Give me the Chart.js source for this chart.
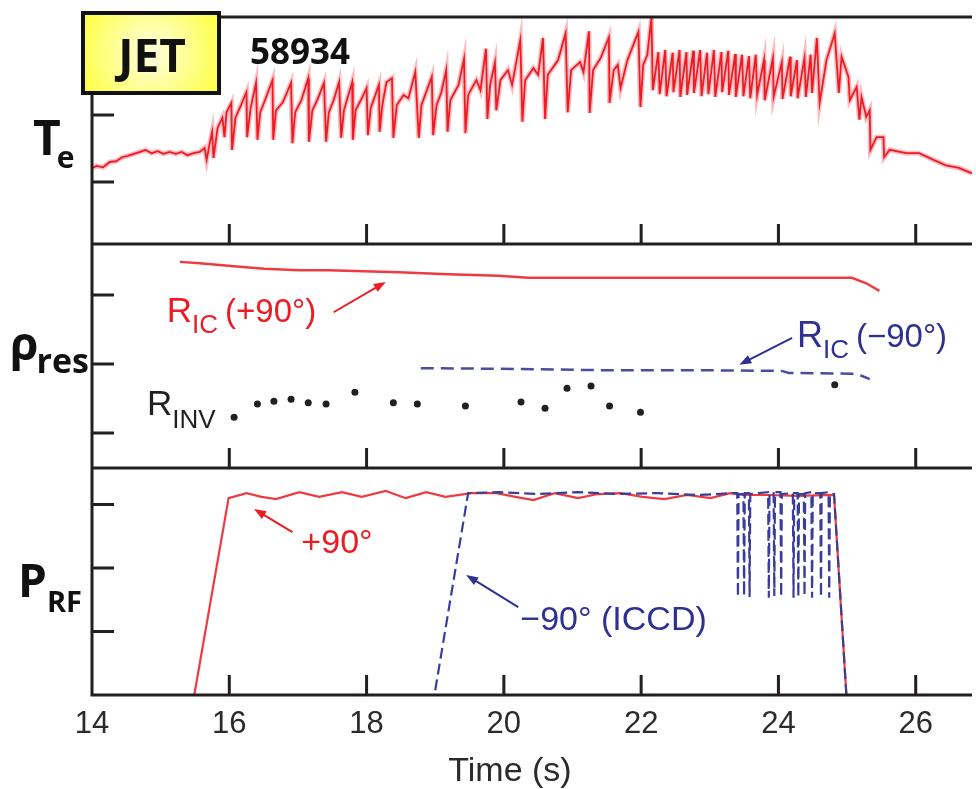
<!DOCTYPE html>
<html>
<head>
<meta charset="utf-8">
<script src="https://cdn.jsdelivr.net/npm/chart.js@4.4.1/dist/chart.umd.min.js"></script>
<style>
  html, body { margin: 0; padding: 0; background: #fff; }
  #wrap { position: relative; width: 976px; height: 789px; }
</style>
</head>
<body>
<div id="wrap"><canvas id="jet" width="976" height="789"></canvas></div>
<script>
// shot 58934: electron temperature, resonance radii and RF power vs time
const xTicks = [14, 16, 18, 20, 22, 24, 26];
const teTicks = [2, 3, 4];
const rhoTicks = [0.2, 0.3, 0.4];
const prfTicks = [2, 4, 6];

// central Te (keV), sawtoothing
const teTime = [
  14.00, 14.07, 14.16, 14.26, 14.35, 14.44, 14.52, 14.61, 14.70, 14.78, 14.87, 14.96, 15.04, 15.13, 15.22, 15.31, 15.39, 15.48, 15.57, 15.64,
  15.67, 15.71, 15.75, 15.77, 15.83, 15.90, 15.93, 15.96, 16.03, 16.04, 16.09, 16.15, 16.25, 16.26, 16.31, 16.39, 16.41,
  16.45, 16.52, 16.63, 16.64, 16.68, 16.78, 16.90, 16.92, 16.96, 17.05, 17.15, 17.16, 17.21, 17.28, 17.38, 17.41, 17.45, 17.52,
  17.60, 17.63, 17.67, 17.79, 17.80, 17.84, 17.93, 18.00, 18.02, 18.06, 18.18, 18.19, 18.23, 18.29, 18.37, 18.39,
  18.44, 18.54, 18.61, 18.71, 18.76, 18.80, 18.95, 18.97, 19.02, 19.09, 19.16, 19.18, 19.22, 19.34, 19.42, 19.44, 19.48,
  19.60, 19.66, 19.74, 19.76, 19.80, 19.87, 19.89, 19.95, 20.06, 20.12, 20.24, 20.27, 20.31, 20.43, 20.50, 20.57, 20.60, 20.64,
  20.79, 20.90, 20.93, 20.98, 21.11, 21.16, 21.24, 21.25, 21.30, 21.41, 21.53, 21.54, 21.60, 21.66, 21.70, 21.80, 21.96, 21.99, 22.03, 22.09, 22.15, 22.17,
  22.25, 22.27, 22.35, 22.37, 22.46, 22.47, 22.56, 22.57, 22.66, 22.67, 22.76, 22.77, 22.86, 22.88, 22.96, 22.98, 23.06, 23.08, 23.17, 23.18, 23.27, 23.28,
  23.37, 23.38, 23.47, 23.49, 23.57, 23.59, 23.67, 23.69, 23.79, 23.80, 23.92, 23.93, 24.05, 24.06, 24.17, 24.18, 24.27, 24.28, 24.38, 24.40, 24.47, 24.49,
  24.56, 24.60, 24.70, 24.82, 24.88, 24.92, 25.02, 25.04, 25.14, 25.18, 25.21, 25.28, 25.33, 25.34, 25.43, 25.53, 25.54, 25.62,
  25.86, 26.05, 26.26, 26.44, 26.63, 26.82
];
const teValue = [
  2.21, 2.24, 2.22, 2.30, 2.31, 2.37, 2.39, 2.42, 2.45, 2.48, 2.43, 2.46, 2.42, 2.45, 2.42, 2.45, 2.40, 2.43, 2.45, 2.51,
  2.33, 2.55, 2.75, 2.36, 2.81, 2.96, 2.67, 3.04, 3.18, 2.48, 2.96, 3.10, 3.34, 2.67, 3.10, 3.48, 2.63,
  3.04, 3.22, 3.52, 2.63, 3.07, 3.19, 3.48, 2.58, 3.04, 3.22, 3.55, 2.60, 3.07, 3.22, 3.48, 2.60, 3.04, 3.22,
  3.49, 2.66, 3.07, 3.49, 2.63, 3.07, 3.25, 3.40, 2.70, 3.10, 3.45, 2.75, 3.15, 3.49, 3.55, 2.66,
  3.15, 3.30, 3.25, 3.64, 2.66, 3.15, 3.57, 2.70, 3.15, 3.34, 3.67, 2.75, 3.22, 3.45, 3.84, 2.73, 3.30,
  3.52, 3.37, 3.99, 2.94, 3.45, 3.78, 3.07, 3.52, 3.67, 3.45, 4.12, 2.90, 3.52, 3.70, 3.60, 4.15, 2.94, 3.60,
  3.82, 4.22, 3.04, 3.67, 3.79, 3.64, 4.25, 3.03, 3.67, 3.85, 4.16, 3.18, 3.67, 3.75, 3.40, 3.82, 4.24, 3.12, 3.75, 3.90, 4.45, 3.37,
  3.94, 3.31, 3.97, 3.28, 3.93, 3.34, 3.97, 3.27, 3.94, 3.30, 3.96, 3.33, 3.97, 3.28, 3.93, 3.31, 3.97, 3.27, 3.94, 3.34, 3.96, 3.30,
  3.91, 3.27, 3.90, 3.28, 3.88, 3.25, 3.90, 3.30, 3.82, 3.22, 3.85, 3.27, 3.79, 3.24, 3.87, 3.28, 3.82, 3.25, 3.85, 3.27, 3.90, 3.33,
  4.15, 3.18, 3.82, 4.22, 3.33, 3.87, 3.57, 3.22, 3.42, 2.93, 3.27, 2.97, 3.07, 2.48, 2.67, 2.67, 2.37, 2.48,
  2.43, 2.43, 2.33, 2.25, 2.21, 2.13
];

// resonance position, +90 phasing
const ricPlusTime = [15.28, 15.57, 16.15, 16.51, 17.02, 17.45, 18.47, 19.19, 19.92, 20.35, 25.07, 25.28, 25.47];
const ricPlusRho = [0.448, 0.446, 0.441, 0.438, 0.436, 0.436, 0.433, 0.430, 0.428, 0.425, 0.425, 0.417, 0.406];

// resonance position, -90 phasing
const ricMinusTime = [18.79, 19.92, 21.51, 22.82, 24.05, 24.15, 25.07, 25.21, 25.33];
const ricMinusRho = [0.294, 0.293, 0.291, 0.291, 0.290, 0.287, 0.286, 0.283, 0.278];

// sawtooth inversion radius
const rinvTime = [16.07, 16.41, 16.65, 16.90, 17.15, 17.41, 17.83, 18.39, 18.74, 19.44, 20.25, 20.60, 20.92, 21.27, 21.54, 21.99, 24.82];
const rinvRho = [0.223, 0.242, 0.246, 0.249, 0.244, 0.242, 0.259, 0.244, 0.242, 0.239, 0.245, 0.236, 0.265, 0.268, 0.239, 0.230, 0.270];

// ICRH power (MW), +90 phasing
const prfPlusTime = [15.49, 15.99, 16.25, 16.47, 16.68, 17.02, 17.31, 17.64, 17.93, 18.28, 18.57, 18.87, 19.15, 19.53,
  19.89, 20.17, 20.43, 20.74, 21.08, 21.37, 21.70, 22.02, 22.34, 22.67, 23.01, 23.30, 23.50, 23.83, 24.27, 24.81, 24.99];
const prfPlusValue = [0, 6.20, 6.36, 6.24, 6.17, 6.39, 6.24, 6.39, 6.24, 6.43, 6.20, 6.39, 6.24, 6.36,
  6.36, 6.24, 6.14, 6.36, 6.20, 6.33, 6.36, 6.24, 6.17, 6.30, 6.20, 6.36, 6.30, 6.30, 6.27, 6.30, 0];

// ICRH power (MW), -90 phasing (ICCD), modulated near the end
const prfMinusTime = [19.00, 19.48, 19.92, 20.50, 21.08, 21.65, 22.24, 22.82, 23.36,
  23.40, 23.41, 23.42, 23.49, 23.50, 23.51, 23.57, 23.58, 23.59, 23.85, 23.86, 23.87,
  23.93, 23.94, 23.95, 24.03, 24.04, 24.05, 24.21, 24.22, 24.23, 24.28, 24.29, 24.30,
  24.37, 24.38, 24.39, 24.48, 24.49, 24.50, 24.61, 24.62, 24.63, 24.73, 24.74, 24.75,
  24.81, 24.99];
const prfMinusValue = [0.15, 6.36, 6.39, 6.33, 6.39, 6.33, 6.36, 6.30, 6.36,
  6.36, 3.09, 6.33, 6.33, 3.12, 6.36, 6.36, 3.09, 6.33, 6.39, 3.06, 6.36,
  6.36, 3.12, 6.39, 6.39, 3.09, 6.33, 6.36, 3.06, 6.36, 6.36, 3.09, 6.33,
  6.33, 3.12, 6.36, 6.39, 3.06, 6.36, 6.36, 3.09, 6.36, 6.39, 3.06, 6.33,
  6.33, 0];

const INK = '#231f20';
const RED = '#ed1c24';
const BLUE = '#2e3192';

const pts = (xs, ys) => xs.map((x, i) => ({ x, y: ys[i] }));

function runs(ctx, x, y, parts, color) {
  ctx.fillStyle = color;
  ctx.textAlign = 'left';
  ctx.textBaseline = 'alphabetic';
  let cx = x;
  parts.forEach(p => {
    ctx.font = p.font;
    cx += p.gap || 0;
    ctx.fillText(p.s, cx, y + (p.dy || 0));
    cx += ctx.measureText(p.s).width;
  });
}

function arrow(ctx, x0, y0, x1, y1, color) {
  const ang = Math.atan2(y1 - y0, x1 - x0);
  ctx.strokeStyle = color;
  ctx.fillStyle = color;
  ctx.lineWidth = 2;
  ctx.beginPath();
  ctx.moveTo(x0, y0);
  ctx.lineTo(x1 - 8 * Math.cos(ang), y1 - 8 * Math.sin(ang));
  ctx.stroke();
  ctx.beginPath();
  ctx.moveTo(x1, y1);
  ctx.lineTo(x1 - 12 * Math.cos(ang) + 4.5 * Math.sin(ang), y1 - 12 * Math.sin(ang) - 4.5 * Math.cos(ang));
  ctx.lineTo(x1 - 12 * Math.cos(ang) - 4.5 * Math.sin(ang), y1 - 12 * Math.sin(ang) + 4.5 * Math.cos(ang));
  ctx.closePath();
  ctx.fill();
}

const hiddenY = (min, max, weight) => ({
  type: 'linear', position: 'left', stack: 'panels', stackWeight: weight,
  min, max,
  ticks: { display: false },
  grid: { display: false, drawTicks: false },
  border: { display: false },
  afterFit: s => { s.width = 92; }
});

const decorations = {
  id: 'decorations',
  afterDraw(chart) {
    const { ctx, chartArea: a, scales } = chart;
    const x = scales.x;
    const yT = scales.yT, yR = scales.yR, yP = scales.yP;
    ctx.save();

    // frame and inward tick marks
    ctx.strokeStyle = INK;
    ctx.lineWidth = 3;
    ctx.beginPath();
    ctx.moveTo(a.left - 1.5, a.top); ctx.lineTo(a.right, a.top);
    ctx.moveTo(a.left, a.top); ctx.lineTo(a.left, a.bottom + 1.5);
    [[yT, teTicks], [yR, rhoTicks], [yP, prfTicks]].forEach(([s, ticks]) => {
      ctx.moveTo(a.left, s.bottom); ctx.lineTo(a.right, s.bottom);
      xTicks.slice(1).forEach(v => {
        const px = x.getPixelForValue(v);
        ctx.moveTo(px, s.bottom); ctx.lineTo(px, s.bottom - 20);
      });
      ticks.forEach(v => {
        const py = s.getPixelForValue(v);
        ctx.moveTo(a.left, py); ctx.lineTo(a.left + 22, py);
      });
    });
    ctx.stroke();

    // JET badge
    const g = ctx.createRadialGradient(151, 53, 8, 151, 53, 85);
    g.addColorStop(0, '#ffffd2');
    g.addColorStop(1, '#ffff2e');
    ctx.fillStyle = g;
    ctx.fillRect(83, 13, 136, 80);
    ctx.lineWidth = 4;
    ctx.strokeStyle = '#111';
    ctx.strokeRect(83, 13, 136, 80);
    ctx.fillStyle = '#111';
    ctx.textAlign = 'center';
    ctx.textBaseline = 'alphabetic';
    ctx.font = 'bold 46px "Open Sans"';
    ctx.fillText('JET', 152, 72);
    ctx.font = 'bold 35px "Open Sans"';
    ctx.fillText('58934', 300, 64);

    // panel labels
    runs(ctx, 33, 155, [{ s: 'T', font: 'bold 48px "Open Sans"' }, { s: 'e', font: 'bold 30px "Open Sans"', dy: 13, gap: -4 }], '#111');
    runs(ctx, 10, 360, [{ s: 'ρ', font: 'bold 46px "Open Sans"' }, { s: 'res', font: 'bold 34px "Open Sans"', dy: 13, gap: -2 }], '#111');
    runs(ctx, 18, 597, [{ s: 'P', font: 'bold 46px "Open Sans"' }, { s: 'RF', font: 'bold 29px "Open Sans"', dy: 15, gap: 0 }], '#111');

    // annotations
    const X = t => x.getPixelForValue(t);
    runs(ctx, X(15.09), yR.getPixelForValue(0.361), [
      { s: 'R', font: '35px "Liberation Sans"' },
      { s: 'IC', font: '26px "Liberation Sans"', dy: 11 },
      { s: '(+90°)', font: '33px "Liberation Sans"', gap: 7 }
    ], RED);
    arrow(ctx, X(17.52), yR.getPixelForValue(0.375), X(18.28), yR.getPixelForValue(0.419), RED);

    runs(ctx, X(24.27), yR.getPixelForValue(0.325), [
      { s: 'R', font: '36px "Liberation Sans"' },
      { s: 'IC', font: '26px "Liberation Sans"', dy: 11 },
      { s: '(−90°)', font: '33px "Liberation Sans"', gap: 7 }
    ], BLUE);
    arrow(ctx, X(24.20), yR.getPixelForValue(0.338), X(23.43), yR.getPixelForValue(0.299), BLUE);

    runs(ctx, X(14.80), yR.getPixelForValue(0.226), [
      { s: 'R', font: '35px "Liberation Sans"' },
      { s: 'INV', font: '26px "Liberation Sans"', dy: 13 }
    ], INK);

    runs(ctx, X(17.05), yP.getPixelForValue(4.47), [{ s: '+90°', font: '34px "Liberation Sans"' }], RED);
    arrow(ctx, X(16.92), yP.getPixelForValue(5.13), X(16.36), yP.getPixelForValue(5.86), RED);

    runs(ctx, X(20.24), yP.getPixelForValue(2.05), [{ s: '−90° (ICCD)', font: '34px "Liberation Sans"' }], BLUE);
    arrow(ctx, X(20.21), yP.getPixelForValue(2.77), X(19.45), yP.getPixelForValue(3.78), BLUE);

    // x axis title
    ctx.fillStyle = '#2b2b2b';
    ctx.font = '34px "Liberation Sans"';
    ctx.textAlign = 'center';
    ctx.fillText('Time (s)', 510, 781);
    ctx.restore();
  }
};

new Chart(document.getElementById('jet'), {
  type: 'line',
  data: {
    datasets: [
      { data: pts(teTime, teValue), yAxisID: 'yT', borderColor: RED, borderWidth: 1.8 },
      { data: pts(teTime, teValue), yAxisID: 'yT', borderColor: 'rgba(242,110,120,0.45)', borderWidth: 5 },
      { data: pts(rinvTime, rinvRho), yAxisID: 'yR', showLine: false, pointRadius: 3.5,
        pointBackgroundColor: INK, pointBorderWidth: 0 },
      { data: pts(ricMinusTime, ricMinusRho), yAxisID: 'yR', borderColor: '#4a4d9e', borderWidth: 2.5,
        borderDash: [13, 7] },
      { data: pts(ricPlusTime, ricPlusRho), yAxisID: 'yR', borderColor: '#ef3a42', borderWidth: 2.5 },
      { data: pts(prfMinusTime, prfMinusValue), yAxisID: 'yP', borderColor: '#3a3d9a', borderWidth: 2.2,
        borderDash: [11, 5] },
      { data: pts(prfPlusTime, prfPlusValue), yAxisID: 'yP', borderColor: '#ef3a42', borderWidth: 2.2 }
    ]
  },
  options: {
    responsive: false,
    devicePixelRatio: 1,
    animation: false,
    layout: { padding: { top: 17, right: 0, bottom: 0, left: 0 } },
    elements: { point: { radius: 0 }, line: { tension: 0 } },
    plugins: { legend: { display: false }, tooltip: { enabled: false } },
    scales: {
      x: {
        type: 'linear', position: 'bottom', min: 14, max: 26.82,
        afterFit: s => { s.height = 94; },
        afterBuildTicks: s => { s.ticks = xTicks.map(v => ({ value: v })); },
        grid: { display: false, drawTicks: false },
        border: { display: false },
        ticks: { padding: 11, color: '#2b2b2b', font: { family: 'Liberation Sans', size: 31 } }
      },
      yP: hiddenY(0, 7.15, 227),
      yR: hiddenY(0.1493, 0.4739, 224),
      yT: hiddenY(1.075, 4.463, 227)
    }
  },
  plugins: [decorations]
});
</script>
</body>
</html>
